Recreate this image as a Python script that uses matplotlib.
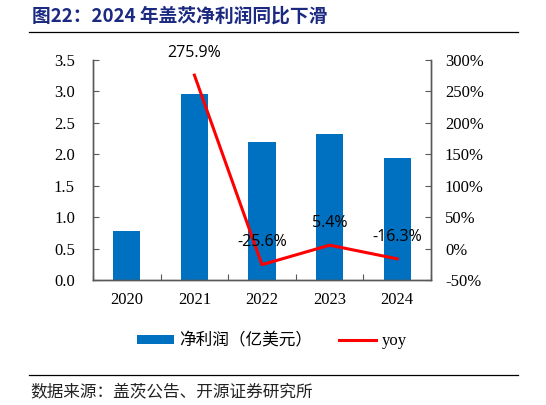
import matplotlib
matplotlib.use("Agg")
import matplotlib.pyplot as plt
from matplotlib.patches import Patch
from matplotlib.lines import Line2D
import numpy as np

years = ["2020", "2021", "2022", "2023", "2024"]
profit = [0.78, 2.96, 2.20, 2.32, 1.94]
yoy_years = ["2021", "2022", "2023", "2024"]
yoy = [275.9, -25.6, 5.4, -16.3]
left_ticks = [0.0, 0.5, 1.0, 1.5, 2.0, 2.5, 3.0, 3.5]
right_ticks = [-50, 0, 50, 100, 150, 200, 250, 300]

title = "图22：2024 年盖茨净利润同比下滑"
source = "数据来源：盖茨公告、开源证券研究所"
bar_label = "净利润（亿美元）"
line_label = "yoy"

SERIF = ["Liberation Serif", "Noto Sans CJK SC"]
CJK = ["Noto Sans CJK SC", "DejaVu Sans"]
SPINE = "#595959"

fig = plt.figure(figsize=(5.46, 4.05), dpi=100)
ax = fig.add_axes([93/546, 1-280/405, (431-93)/546, 220/405])
ax2 = ax.twinx()

x = np.arange(len(years))
ax.bar(x, profit, width=0.4, color="#0070C0", zorder=2)
ax.set_ylim(0, 3.5)
ax.set_yticks(left_ticks)
ax.set_yticklabels([f"{v:.1f}" for v in left_ticks], family=SERIF, fontsize=12)
ax.set_xlim(-0.5, len(years) - 0.5)
ax.set_xticks(np.arange(-0.5, len(years), 1.0))
ax.set_xticklabels([])
ax.set_xticks(x, minor=True)
ax.set_xticklabels(years, minor=True, family=SERIF, fontsize=12)
ax.tick_params(axis="x", which="minor", length=0, pad=9)
ax.tick_params(axis="x", which="major", direction="in", length=4, color=SPINE)
ax.tick_params(axis="y", direction="in", length=4, color=SPINE, pad=13)

yx = [years.index(y) for y in yoy_years]
ax2.plot(yx, yoy, color="#FF0000", lw=2.2, zorder=3)
ax2.set_ylim(-50, 300)
ax2.set_yticks(right_ticks)
ax2.set_yticklabels([f"{v}%" for v in right_ticks], family=SERIF, fontsize=12)
ax2.tick_params(axis="y", direction="in", length=4, color=SPINE, pad=10)
for xi, v in zip(yx, yoy):
    ax2.annotate(f"{v:.1f}%", (xi, v), xytext=(0, 16), textcoords="offset points",
                 ha="center", va="center", fontsize=11.5, family=["Open Sans", "DejaVu Sans"])

for a in (ax, ax2):
    a.spines["top"].set_visible(False)
    for s in ("left", "right", "bottom"):
        a.spines[s].set_color(SPINE)
        a.spines[s].set_linewidth(1.0)

fig.text(32/546, 1-16/405, title, family=CJK, fontweight="bold", fontsize=13.5,
         color="#1B2A80", ha="left", va="center")
fig.add_artist(Line2D([29/546, 518/546], [1-31.5/405, 1-31.5/405], color="black", lw=0.9))
fig.add_artist(Line2D([29/546, 518/546], [1-375/405, 1-375/405], color="black", lw=0.9))
fig.text(30/546, 1-392/405, source, family=CJK, fontsize=12, color="#222222",
         ha="left", va="center")

handles = [Patch(facecolor="#0070C0", edgecolor="none"),
           Line2D([], [], color="#FF0000", lw=2.2)]
leg = fig.legend(handles, [bar_label, line_label], loc="center",
                 bbox_to_anchor=(272/546, 1-341/405), ncol=2, frameon=False,
                 prop={"family": SERIF, "size": 12}, handlelength=2.2,
                 handleheight=0.45, columnspacing=1.6, handletextpad=0.35)

fig.savefig("out.png", dpi=100)
